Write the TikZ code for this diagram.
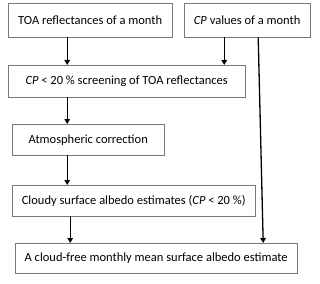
\documentclass[tikz,border=0pt]{standalone}
\usepackage{fontspec}
\setmainfont{Carlito}
\usetikzlibrary{arrows.meta, positioning}
\definecolor{boxgray}{RGB}{120,120,120}
\tikzset{
  box/.style={rectangle, draw=boxgray, fill=white, anchor=north west, inner sep=0pt,
              align=center, font=\fontsize{12.5}{15}\selectfont},
  arr/.style={-{Triangle[length=5pt,width=5.5pt]}, line width=1.3pt, black},
}
\begin{document}
\begin{tikzpicture}[x=1pt,y=1pt]
\useasboundingbox (0,0) rectangle (320,-283);

% Eingaben
\node[box, minimum width=164pt, minimum height=34pt] (toa) at (8,-3) {TOA reflectances of a month};
\node[box, minimum width=126pt, minimum height=34pt] (cp) at (184,-3) {\textit{CP} values of a month};

% Verarbeitung
\node[box, minimum width=237pt, minimum height=32pt] (screen) at (8,-65) {\textit{CP} < 20 \% screening of TOA reflectances};
\node[box, minimum width=152pt, minimum height=31pt] (atm) at (12,-124) {Atmospheric correction};
\node[box, minimum width=243pt, minimum height=31pt] (cloudy) at (12,-185) {Cloudy surface albedo estimates (\textit{CP} < 20 \%)};
\node[box, minimum width=282pt, minimum height=30pt] (final) at (15,-243) {A cloud-free monthly mean surface albedo estimate};

% Pfeile
\draw[arr] ([xshift=-23pt]toa.south) coordinate (a1) -- (a1 |- screen.north);
\draw[arr] ([xshift=-23pt]cp.south) coordinate (a2) -- (a2 |- screen.north);
\draw[arr] ([xshift=-59.5pt]screen.south) coordinate (a3) -- (a3 |- atm.north);
\draw[arr] ([xshift=-21pt]atm.south) coordinate (a4) -- (a4 |- cloudy.north);
\draw[arr] ([xshift=-63.5pt]cloudy.south) coordinate (a5) -- (a5 |- final.north);
\draw[arr] ([xshift=11pt]cp.south) -- ([xshift=107pt]final.north);

\end{tikzpicture}
\end{document}
